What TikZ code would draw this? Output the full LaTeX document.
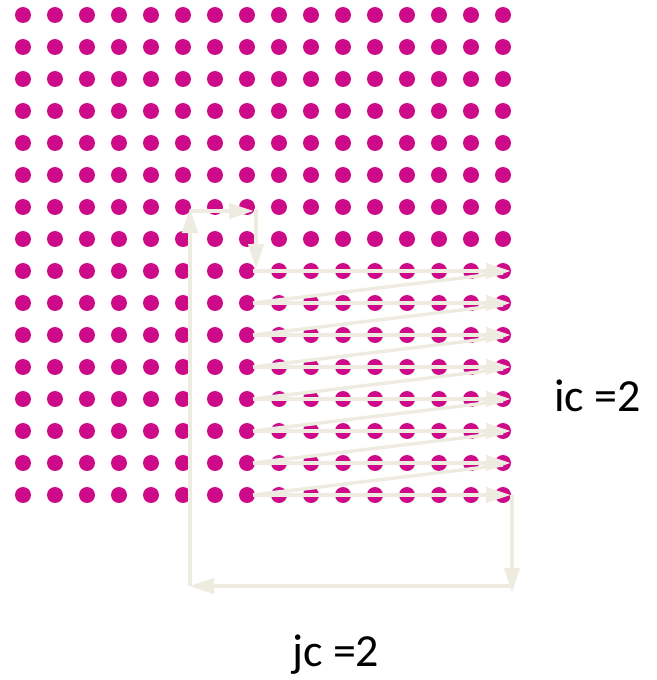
\documentclass[tikz,border=0pt]{standalone}
\usepackage{fontspec}
\setmainfont{Carlito}
\usetikzlibrary{arrows.meta}
\definecolor{dotmag}{RGB}{205,10,135}
\definecolor{arrbeige}{RGB}{238,236,225}
\begin{document}
\begin{tikzpicture}[x=1pt,y=-1pt,
  dotstyle/.style={circle,fill=dotmag,inner sep=0pt,minimum size=16pt},
  flow/.style={draw=arrbeige,line width=4pt,-{Triangle[length=25pt,width=15pt]}},
  plainflow/.style={draw=arrbeige,line width=3.5pt},
  lbl/.style={font=\fontsize{46}{46}\selectfont,anchor=base west,inner sep=0pt}]
\useasboundingbox (0,0) rectangle (656,680);
% grid of dots
\foreach \r in {0,...,15}{
  \foreach \c in {0,...,15}{
    \node[dotstyle] (d-\r-\c) at (23+32*\c,15+32*\r) {};
  }
}
% path coordinates
\coordinate (s0) at (190,586);
\coordinate (s1) at (190,208);
\coordinate (s2) at (190,211);
\coordinate (s3) at (254,211);
\coordinate (s3b) at (256,209);
\coordinate (s4) at (256,269);
\foreach \k in {8,...,15}{
  \coordinate (rl-\k) at (253,15+32*\k);
  \coordinate (rr-\k) at (511,15+32*\k);
  \coordinate (rd-\k) at (503,17+32*\k);
}
\coordinate (e0) at (512,495);
\coordinate (e1) at (512,593);
\coordinate (e2) at (512,586);
\coordinate (e3) at (189,586);
% diagonals (behind)
\foreach \k [evaluate=\k as \n using int(\k+1)] in {8,...,14}{
  \path[plainflow] (rl-\n) -- (rd-\k);
}
\draw[flow] (s0) -- (s1);
\draw[flow] (s2) -- (s3);
\draw[flow] (s3b) -- (s4);
\foreach \k in {8,...,15}{
  \draw[flow] (rl-\k) -- (rr-\k);
}
\draw[flow] (e0) -- (e1);
\draw[flow] (e2) -- (e3);
\node[lbl] (ic) at (554,411) {ic =2};
\node[lbl] (jc) at (292,666) {jc =2};
\end{tikzpicture}
\end{document}
